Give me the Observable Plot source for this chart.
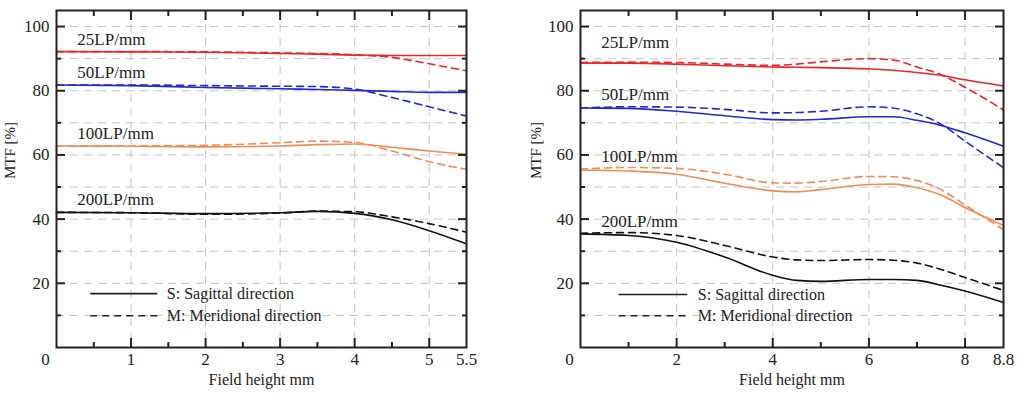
<!DOCTYPE html>
<html><head><meta charset="utf-8">
<script src="https://cdn.jsdelivr.net/npm/d3@7"></script>
<script src="https://cdn.jsdelivr.net/npm/@observablehq/plot@0.6"></script>
<style>
body{margin:0;background:#fff;}
#wrap{position:relative;width:1024px;height:397px;overflow:hidden;background:#fff;}
.panel{position:absolute;top:0;}
.panel svg{overflow:visible !important;}
.panel svg text{font-family:"Liberation Serif","DejaVu Serif",serif !important;}
</style></head><body>
<div id="wrap"><div id="p1" class="panel" style="left:0"></div><div id="p2" class="panel" style="left:512px"></div></div>
<script>
// ---- data ----
const frequencies = ["25LP/mm", "50LP/mm", "100LP/mm", "200LP/mm"];
const freqColors = ["#e8262b", "#2626cc", "#f08c55", "#111111"];
const directions = ["S", "M"];
const legendTexts = ["S: Sagittal direction", "M: Meridional direction"];

// left chart
const leftField = [0, 1, 2, 3, 3.5, 4, 4.5, 5, 5.5];
const left25S = [92.2, 92.1, 92.0, 91.6, 91.4, 91.1, 91.0, 91.0, 91.0];
const left25M = [92.2, 92.2, 92.1, 91.8, 91.6, 91.2, 90.4, 88.4, 86.2];
const left50S = [81.8, 81.6, 81.0, 80.6, 80.4, 80.1, 79.8, 79.5, 79.5];
const left50M = [81.8, 81.8, 81.6, 81.4, 81.3, 80.5, 77.9, 75.0, 72.1];
const left100S = [62.8, 62.7, 62.5, 62.8, 63.2, 63.4, 62.4, 61.2, 60.2];
const left100M = [62.8, 62.8, 63.0, 63.8, 64.3, 63.9, 61.2, 57.9, 55.5];
const left200S = [42.1, 42.0, 41.7, 42.0, 42.4, 41.8, 39.8, 36.4, 32.3];
const left200M = [42.1, 42.0, 41.5, 41.9, 42.5, 42.3, 40.7, 38.6, 35.9];
const leftTickLabels = [1, 2, 3, 4, 5, 5.5];
const leftLabelX = 0.28;
const leftLabelY = [95.8, 85.7, 66.7, 46.0];

// right chart
const rightField = [0, 1, 2, 3, 4, 4.5, 5, 6, 6.5, 7, 7.5, 8, 8.8];
const right25S = [88.6, 88.6, 88.3, 87.8, 87.4, 87.3, 87.2, 86.8, 86.4, 85.7, 84.8, 83.4, 81.5];
const right25M = [88.8, 88.9, 88.8, 88.3, 87.9, 88.3, 89.0, 90.0, 89.6, 87.4, 85.0, 81.1, 74.0];
const right50S = [74.6, 74.5, 73.6, 72.2, 71.0, 70.9, 71.1, 71.9, 71.9, 70.8, 69.2, 66.9, 62.7];
const right50M = [74.6, 75.0, 74.9, 74.2, 73.1, 73.2, 73.6, 75.0, 74.6, 72.8, 69.6, 64.3, 56.0];
const right100S = [55.3, 55.0, 54.0, 51.2, 48.8, 48.5, 49.2, 50.8, 50.9, 49.8, 47.5, 43.6, 38.0];
const right100M = [55.6, 56.1, 55.8, 54.0, 51.3, 51.2, 51.7, 53.3, 53.2, 52.0, 49.2, 44.4, 36.7];
const right200S = [35.4, 34.9, 32.8, 28.2, 22.5, 20.9, 20.6, 21.2, 21.2, 20.9, 19.4, 17.6, 14.0];
const right200M = [35.6, 35.8, 34.9, 31.8, 28.2, 27.3, 27.1, 27.4, 27.2, 26.3, 24.3, 21.8, 17.8];
const rightTickLabels = [2, 4, 6, 8, 8.8];
const rightLabelX = 0.43;
const rightLabelY = [95.1, 78.8, 59.5, 39.2];

const yLabelTicks = [20, 40, 60, 80, 100];
const yMinorTicks = [10, 30, 50, 70, 90];
const yGridTicks = [10, 20, 30, 40, 50, 60, 70, 80, 90, 100];

// ---- build ----
function rows(xs, seriesS, seriesM) {
  const out = [];
  frequencies.forEach((f, i) => {
    [[seriesS[i], "S"], [seriesM[i], "M"]].forEach(([vals, dir]) => {
      xs.forEach((x, j) => out.push({x, y: vals[j], freq: f, dir}));
    });
  });
  return out;
}
const leftData = rows(leftField, [left25S, left50S, left100S, left200S], [left25M, left50M, left100M, left200M]);
const rightData = rows(rightField, [right25S, right50S, right100S, right200S], [right25M, right50M, right100M, right200M]);

const font = "Liberation Serif";
const ink = "#222";

function chart(cfg) {
  const {data, xMax, xMajor, xMinor, xGrid, xTickLabels, labelX, labelY, mLeft, mRight, legend, yTitleDx} = cfg;
  const labels = frequencies.map((f, i) => ({x: labelX, y: labelY[i], text: f}));
  const legendRows = directions.map((d, i) => ({dir: d, text: legendTexts[i], y: legend.y[i]}));
  const colorScale = {domain: frequencies, range: freqColors};
  const tf = {fontFamily: font};
  return Plot.plot({
    width: 512, height: 397,
    marginLeft: mLeft, marginRight: mRight, marginTop: 10, marginBottom: 50,
    style: {fontFamily: font, fontSize: "16px", color: ink, background: "white", overflow: "visible"},
    x: {domain: [0, xMax], axis: null},
    y: {domain: [0, 105], axis: null},
    color: {type: "ordinal", ...colorScale},
    marks: [
      Plot.gridY(yGridTicks, {stroke: "#c4c4c4", strokeOpacity: 1, strokeWidth: 1, strokeDasharray: "8,6"}),
      Plot.gridX(xGrid, {stroke: "#c4c4c4", strokeOpacity: 1, strokeWidth: 1, strokeDasharray: "8,6"}),
      Plot.line(data.filter(d => d.dir === "S"), {x: "x", y: "y", z: "freq", stroke: "freq", strokeWidth: 1.6, curve: "monotone-x"}),
      Plot.line(data.filter(d => d.dir === "M"), {x: "x", y: "y", z: "freq", stroke: "freq", strokeWidth: 1.6, strokeDasharray: "7,5", curve: "monotone-x"}),
      Plot.text(labels, {x: "x", y: "y", text: "text", textAnchor: "start", lineAnchor: "middle", fontSize: 17, fill: ink, ...tf}),
      Plot.ruleY(legendRows.filter(d => d.dir === "S"), {y: "y", x1: legend.x1, x2: legend.x2, stroke: ink, strokeWidth: 1.6}),
      Plot.ruleY(legendRows.filter(d => d.dir === "M"), {y: "y", x1: legend.x1, x2: legend.x2, stroke: ink, strokeWidth: 1.6, strokeDasharray: "7,5"}),
      Plot.text(legendRows, {x: legend.tx, y: "y", text: "text", textAnchor: "start", lineAnchor: "middle", fontSize: 16, fill: ink, ...tf}),
      // inward ticks
      Plot.axisY(yLabelTicks, {anchor: "left", tickSize: -9, tickFormat: () => "", label: null, strokeWidth: 2, stroke: ink}),
      Plot.axisY(yMinorTicks, {anchor: "left", tickSize: -5, tickFormat: () => "", label: null, strokeWidth: 2, stroke: ink}),
      Plot.axisY(yLabelTicks, {anchor: "right", tickSize: -9, tickFormat: () => "", label: null, strokeWidth: 2, stroke: ink}),
      Plot.axisY(yMinorTicks, {anchor: "right", tickSize: -5, tickFormat: () => "", label: null, strokeWidth: 2, stroke: ink}),
      Plot.axisX(xMajor, {anchor: "bottom", tickSize: -9, tickFormat: () => "", label: null, strokeWidth: 2, stroke: ink}),
      Plot.axisX(xMinor, {anchor: "bottom", tickSize: -5, tickFormat: () => "", label: null, strokeWidth: 2, stroke: ink}),
      Plot.axisX(xMajor, {anchor: "top", tickSize: -9, tickFormat: () => "", label: null, strokeWidth: 2, stroke: ink}),
      Plot.axisX(xMinor, {anchor: "top", tickSize: -5, tickFormat: () => "", label: null, strokeWidth: 2, stroke: ink}),
      // tick labels
      Plot.axisY(yLabelTicks, {anchor: "left", tickSize: 0, tickPadding: 7, label: null, fontSize: 17, fill: ink, ...tf}),
      Plot.axisX(xTickLabels, {anchor: "bottom", tickSize: 0, tickPadding: 5, label: null, fontSize: 17, fill: ink, tickFormat: d => String(d), ...tf}),
      Plot.axisX([0], {anchor: "bottom", tickSize: 0, tickPadding: 5, label: null, fontSize: 17, fill: ink, dx: -11, tickFormat: d => String(d), ...tf}),
      Plot.frame({stroke: ink, strokeWidth: 2}),
      // titles
      Plot.text(["Field height mm"], {frameAnchor: "bottom", dy: 32, lineAnchor: "middle", fontSize: 16, fill: ink, ...tf}),
      Plot.text(["MTF [%]"], {frameAnchor: "left", dx: yTitleDx, rotate: -90, lineAnchor: "middle", fontSize: 15, fill: ink, ...tf})
    ]
  });
}

document.getElementById("p1").append(chart({
  data: leftData, xMax: 5.5,
  xMajor: [1, 2, 3, 4, 5], xMinor: [0.5, 1.5, 2.5, 3.5, 4.5], xGrid: [1, 2, 3, 4, 5],
  xTickLabels: leftTickLabels, labelX: leftLabelX, labelY: leftLabelY,
  mLeft: 56, mRight: 46, yTitleDx: -46,
  legend: {x1: 0.46, x2: 1.36, tx: 1.48, y: [16.8, 9.9]}
}));
document.getElementById("p2").append(chart({
  data: rightData, xMax: 8.8,
  xMajor: [2, 4, 6, 8], xMinor: [1, 3, 5, 7], xGrid: [2, 4, 6, 8],
  xTickLabels: rightTickLabels, labelX: rightLabelX, labelY: rightLabelY,
  mLeft: 68, mRight: 21, yTitleDx: -44,
  legend: {x1: 0.8, x2: 2.23, tx: 2.44, y: [16.5, 9.9]}
}));
</script>
</body></html>
